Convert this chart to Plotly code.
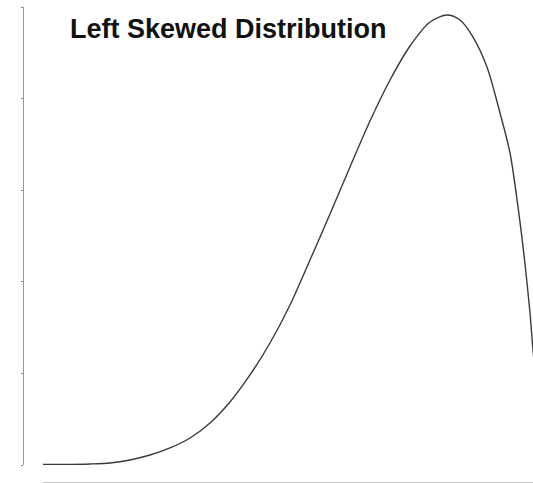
import plotly.graph_objects as go

# Curve values (arbitrary units)
x_vals = [0.0, 0.551, 0.959, 1.367, 1.776, 2.184, 2.592, 3.0, 3.408, 3.816, 4.224,
          4.633, 5.041, 5.449, 5.857, 6.265, 6.673, 7.082, 7.490, 7.898, 8.245,
          8.510, 8.776, 9.061, 9.327, 9.531, 9.694, 9.837, 9.939, 10.0, 10.143]
density = [0.005, 0.006, 0.011, 0.022, 0.055, 0.109, 0.186, 0.295, 0.459, 0.688, 0.983,
           1.332, 1.747, 2.238, 2.740, 3.253, 3.755, 4.203, 4.574, 4.836, 4.913,
           4.858, 4.672, 4.345, 3.843, 3.406, 2.817, 2.194, 1.659, 1.255, 0.5]
y_ticks = [0, 1, 2, 3, 4, 5]
title_text = "Left Skewed Distribution"

W, H = 533, 483
ml, mr, mt, mb = 23, 0, 7, 1
pw, ph = W - ml - mr, H - mt - mb

fig = go.Figure()
fig.add_trace(go.Scatter(
    x=x_vals, y=density, mode="lines",
    line=dict(color="#3a3a3a", width=1.4, shape="spline", smoothing=0.8),
    hoverinfo="skip", showlegend=False,
))

fig.update_layout(
    width=W, height=H,
    margin=dict(l=ml, r=mr, t=mt, b=mb, pad=0),
    paper_bgcolor="white", plot_bgcolor="white",
    xaxis=dict(
        domain=[(43 - ml) / pw, 1], range=[0, 10],
        anchor="free", position=0,
        showline=True, linecolor="#c8c8c8", linewidth=1.5,
        showgrid=False, zeroline=False, showticklabels=False, ticks="",
    ),
    yaxis=dict(
        domain=[(H - mb - 465) / ph, 1], range=[0, 5],
        anchor="free", position=0,
        showline=True, linecolor="#999999", linewidth=1.3,
        showgrid=False, zeroline=False, showticklabels=False,
        tickvals=y_ticks, ticks="outside", ticklen=2, tickwidth=1, tickcolor="#888888",
    ),
    annotations=[dict(
        text="<b>" + title_text + "</b>", xref="paper", yref="paper",
        x=(68 - ml) / pw, y=(H - mb - 29) / ph, xanchor="left", yanchor="middle",
        showarrow=False, font=dict(family="Liberation Sans, Arial, sans-serif", size=27, color="#111111"),
    )],
)

fig.write_html("out.html", config={"displayModeBar": False, "staticPlot": True},
               post_script="document.body.style.margin='0';document.body.style.overflow='hidden';")
